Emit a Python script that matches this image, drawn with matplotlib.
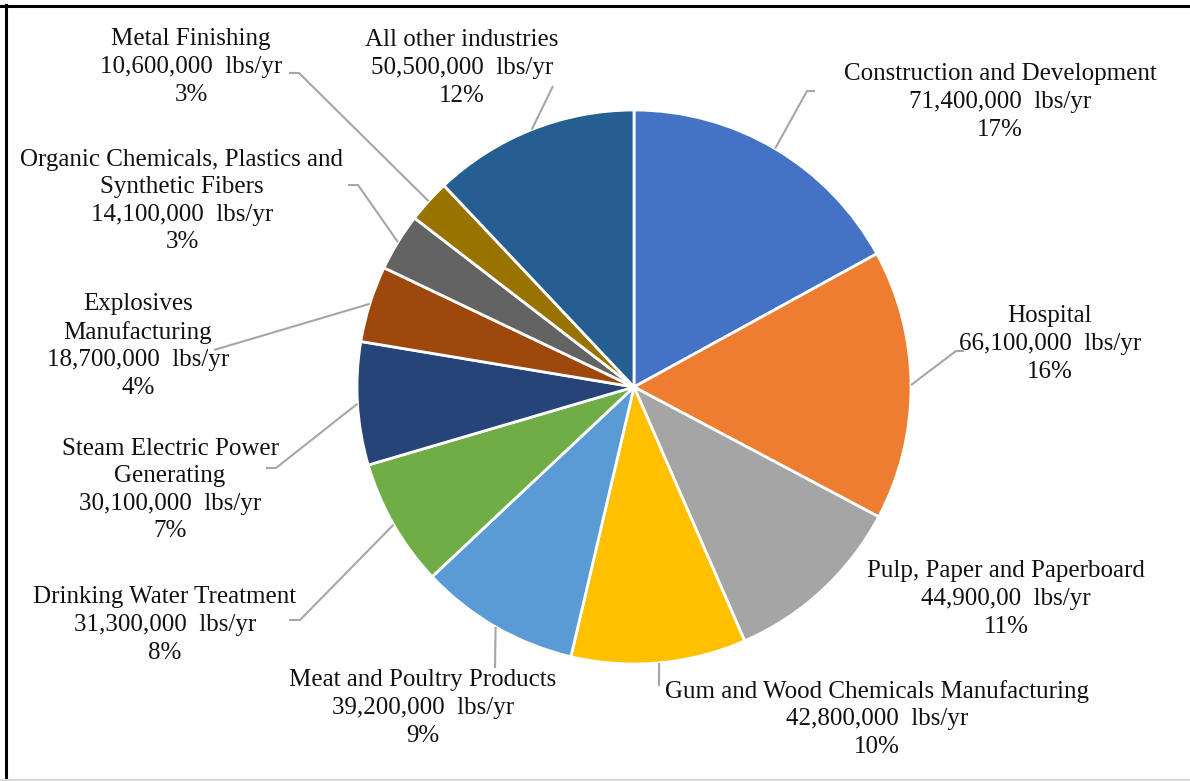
import numpy as np
import matplotlib.pyplot as plt
from matplotlib.lines import Line2D

# industry discharge, lbs/yr (pie order, clockwise from 12 o'clock)
industries = [
    "Construction and Development",
    "Hospital",
    "Pulp, Paper and Paperboard",
    "Gum and Wood Chemicals Manufacturing",
    "Meat and Poultry Products",
    "Drinking Water Treatment",
    "Steam Electric Power\nGenerating",
    "Explosives\nManufacturing",
    "Organic Chemicals, Plastics and\nSynthetic Fibers",
    "Metal Finishing",
    "All other industries",
]
amounts = [71.4e6, 66.1e6, 44.9e6, 42.8e6, 39.2e6, 31.3e6, 30.1e6,
           18.7e6, 14.1e6, 10.6e6, 50.5e6]
amount_text = ["71,400,000", "66,100,000", "44,900,00", "42,800,000",
               "39,200,000", "31,300,000", "30,100,000", "18,700,000",
               "14,100,000", "10,600,000", "50,500,000"]
percents = [17, 16, 11, 10, 9, 8, 7, 4, 3, 3, 12]
colors = ["#4472C4", "#ED7D31", "#A5A5A5", "#FFC000", "#5B9BD5", "#70AD47",
          "#264478", "#9E480E", "#636363", "#997300", "#255E91"]

# label block centres (pixels, y down)
label_xy = [(1000, 102), (1050, 344), (1006, 599), (877, 719), (423, 708),
            (165, 625), (170, 490), (138, 346), (182, 201), (191, 67),
            (462, 68)]
# leader line points after the rim point (None = no leader)
leader_pts = [
    [(807, 91), (815, 91)],
    [(956, 351), (964, 351)],
    None,
    [(659, 686)],
    [(495, 668)],
    [(300, 620), (289, 620)],
    [(276, 468), (266, 468)],
    [(214, 350)],
    [(358, 185), (348, 185)],
    [(299, 73), (289, 73)],
    [(553, 86)],
]

W, H = 1190, 781
cx, cy, R = 634, 387, 277

fig = plt.figure(figsize=(W / 100, H / 100), dpi=100)
ax = fig.add_axes([0, 0, 1, 1])

# y axis inverted -> counterclock=True draws clockwise on screen
wedges, _ = ax.pie(amounts, colors=colors, startangle=-90, counterclock=True,
                   center=(cx, cy), radius=R,
                   wedgeprops=dict(edgecolor="white", linewidth=2))
ax.set_xlim(0, W)
ax.set_ylim(H, 0)
ax.set_aspect("equal")
ax.axis("off")

for i, w in enumerate(wedges):
    txt = f"{industries[i]}\n{amount_text[i]}  lbs/yr\n{percents[i]}%"
    ax.text(label_xy[i][0], label_xy[i][1], txt, ha="center", va="center",
            fontsize=18, family="Liberation Serif", color="#111111",
            linespacing=1.33)
    if leader_pts[i] is not None:
        mid = np.deg2rad((w.theta1 + w.theta2) / 2)
        pts = [(cx + R * np.cos(mid), cy + R * np.sin(mid))] + leader_pts[i]
        xs, ys = zip(*pts)
        ax.plot(xs, ys, color="#A6A6A6", lw=1.5, solid_capstyle="butt")

# frame of the screenshot
fig.add_artist(Line2D([0, 1], [1 - 6 / H, 1 - 6 / H], color="black", lw=2.2,
                      transform=fig.transFigure))
fig.add_artist(Line2D([5.5 / W, 5.5 / W], [1 / H, 1 - 5 / H], color="black",
                      lw=2.2, transform=fig.transFigure))
fig.add_artist(Line2D([0, 1], [1.5 / H, 1.5 / H], color="#D9D9D9", lw=1.5,
                      transform=fig.transFigure))

fig.savefig("out.png", dpi=100)
